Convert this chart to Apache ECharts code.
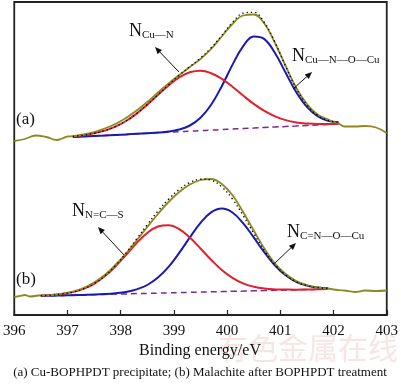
<!DOCTYPE html>
<html><head><meta charset="utf-8">
<script src="https://cdn.jsdelivr.net/npm/echarts@6/dist/echarts.min.js"></script>
<style>html,body{margin:0;padding:0;background:#fff}#c{width:401px;height:392px}</style>
</head><body><div id="c"></div>
<script>
// x-axis tick labels (binding energy, eV)
const tickLabels = [396, 397, 398, 399, 400, 401, 402, 403];

// ---- Panel (a): Cu-BOPHPDT precipitate ----
const fitEnergyA = [397.1,397.3,397.5,397.7,397.9,398.1,398.3,398.5,398.7,398.9,399.1,399.3,399.5,399.7,399.9,400.1,400.3,400.5,400.7,400.9,401.1,401.3,401.5,401.7,401.9,402.1];
const baselineA = [178.0,178.5,179.1,179.6,180.1,180.6,181.2,181.7,182.2,182.7,183.3,183.8,184.3,184.8,185.4,185.9,186.4,186.9,187.5,188.0,188.5,189.0,189.6,190.1,190.6,191.1];
const peakCuN_A = [178.6,179.8,181.7,184.4,188.4,194.0,201.4,210.3,220.0,229.5,237.6,242.7,244.2,241.8,236.2,228.3,219.5,211.1,204.1,198.7,194.9,192.6,191.5,191.0,191.0,191.3];
const peakCuNOCu_A = [178.0,178.5,179.1,179.6,180.1,180.6,181.2,181.8,182.4,183.4,185.5,189.5,197.2,210.2,228.8,250.1,268.7,278.5,275.9,262.0,242.2,222.8,208.1,198.8,194.2,192.4];
const envelopeA = [178.6,179.8,181.7,184.4,188.4,194.0,201.4,210.4,220.2,230.2,239.8,248.4,257.1,267.2,279.6,292.5,301.8,302.7,292.5,272.7,248.6,226.4,210.0,199.7,194.6,192.6];
const rawEnergyA = [396.0,396.2,396.4,396.6,396.8,396.9,397.0,397.1,397.3,397.5,397.7,397.9,398.1,398.3,398.5,398.7,398.9,399.1,399.3,399.5,399.7,399.9,400.1,400.3,400.5,400.7,400.9,401.1,401.3,401.5,401.7,401.9,402.0,402.1,402.2,402.4,402.6,402.8,403.0];
const rawA = [174,176,179.5,178,175,176.5,178.5,178.8,180.5,183,186.5,191,197,204.5,213,222.5,231.5,240,248,256,266,278.5,291,299.5,300.5,291.5,272,249,227,211,200.5,195.5,193,191.5,188.5,188.5,189,187.5,182];

// ---- Panel (b): Malachite after BOPHPDT treatment ----
const fitEnergyB = [396.5,396.7,396.9,397.1,397.3,397.5,397.7,397.9,398.1,398.3,398.5,398.7,398.9,399.1,399.3,399.5,399.7,399.9,400.1,400.3,400.5,400.7,400.9,401.1,401.3,401.5,401.7,401.9];
const baselineB = [19.1,19.3,19.6,19.8,20.1,20.3,20.6,20.9,21.1,21.4,21.6,21.9,22.1,22.4,22.6,22.9,23.2,23.4,23.7,23.9,24.2,24.4,24.7,25.0,25.2,25.5,25.7,26.0];
const peakNCS_B = [19.4,19.9,21.1,22.9,26.1,31.2,38.7,48.5,60.0,71.9,82.0,88.5,89.8,85.9,77.4,66.5,55.2,45.0,37.2,31.6,28.3,26.4,25.6,25.4,25.3,25.5,25.7,26.0];
const peakCNOCu_B = [19.1,19.3,19.6,19.8,20.1,20.4,20.9,21.7,23.0,25.6,30.0,37.4,48.1,62.1,77.6,92.2,102.7,106.4,102.5,91.9,77.6,62.6,49.5,39.7,33.1,29.4,27.4,26.7];
const envelopeB = [19.4,19.9,21.1,22.9,26.1,31.3,39.0,49.3,61.9,76.1,90.4,104.0,115.8,125.6,132.4,135.8,134.7,128.0,116.0,99.6,81.7,64.6,50.4,40.1,33.2,29.4,27.4,26.7];
const rawEnergyB = [396.0,396.1,396.2,396.3,396.45,396.7,396.9,397.1,397.3,397.5,397.7,397.9,398.1,398.3,398.5,398.7,398.9,399.1,399.3,399.5,399.7,399.9,400.1,400.3,400.5,400.7,400.9,401.1,401.3,401.5,401.7,401.9,402.0,402.2,402.4,402.6,402.8,403.0];
const rawB = [18,19,20,18.5,19.5,20,21.3,23.5,27,32.5,40,50,61.5,74.5,88,101,113,123,130.5,135,136,131,120,103,84.5,66.5,51.5,41,34,30,27.5,26.5,25.5,24.5,23,24.5,24,24.5];

const zip = (xs, ys) => xs.map((x, i) => [x, ys[i]]);
const OLIVE = '#8c8a20', RED = '#e0202c', BLUE = '#1a1ab0', PURPLE = '#7a2a8c';
const SERIF = '"Liberation Serif", "Times New Roman", serif';

function line(data, color, width, type, z) {
  return { type: 'line', data, symbol: 'none', smooth: 0.4, z: z || 2,
    lineStyle: { color, width, type: type || 'solid' }, silent: true, animation: false };
}

const series = [];
[[fitEnergyA, baselineA, peakCuN_A, peakCuNOCu_A, envelopeA, rawEnergyA, rawA],
 [fitEnergyB, baselineB, peakNCS_B, peakCNOCu_B, envelopeB, rawEnergyB, rawB]].forEach(p => {
  series.push(line(zip(p[0], p[1]), PURPLE, 1.5, [6, 4], 2));
  series.push(line(zip(p[0], p[3]), BLUE, 2, 'solid', 3));
  series.push(line(zip(p[0], p[2]), RED, 2, 'solid', 4));
  series.push(line(zip(p[5], p[6]), OLIVE, 1.8, 'solid', 5));
  series.push(line(zip(p[0], p[4]), '#000', 1.3, [1.3, 3], 6));
});

function arrow(x1, y1, x2, y2) {
  const a = Math.atan2(y2 - y1, x2 - x1), L = 7, W = 3;
  const bx = x2 - L * Math.cos(a), by = y2 - L * Math.sin(a);
  return [
    { type: 'line', shape: { x1, y1, x2: bx, y2: by }, style: { stroke: '#111', lineWidth: 1 }, z: 20 },
    { type: 'polygon', shape: { points: [[x2, y2], [bx + W * Math.sin(a), by - W * Math.cos(a)], [bx - W * Math.sin(a), by + W * Math.cos(a)]] }, style: { fill: '#111' }, z: 20 }
  ];
}
function txt(x, y, text, size, extra) {
  return Object.assign({ type: 'text', x, y, z: 20,
    style: { text, fontSize: size, fontFamily: SERIF, fill: '#111', textVerticalAlign: 'top' } }, extra || {});
}

const graphic = [
  txt(129, 22, 'N', 18), txt(142, 30, 'Cu—N', 11),
  txt(292, 47, 'N', 18), txt(305, 55, 'Cu—N—O—Cu', 11),
  txt(72, 202, 'N', 18), txt(85, 210, 'N=C—S', 11),
  txt(287, 223, 'N', 18), txt(300, 231, 'C=N—O—Cu', 11),
  txt(16, 111, '(a)', 17), txt(16, 271, '(b)', 17),
  { type: 'text', x: 200, y: 343, z: 20, style: { text: 'Binding energy/eV', fontSize: 16, fontFamily: SERIF, fill: '#111', textAlign: 'center', textVerticalAlign: 'top' } },
  { type: 'text', x: 308, y: 333, z: 1, style: { text: '有色金属在线', fontSize: 30, fontFamily: '"Noto Sans CJK SC", sans-serif', fill: 'rgba(225,160,160,0.28)', textAlign: 'center', textVerticalAlign: 'top' } },
  { type: 'text', x: 200, y: 366, z: 20, style: { text: '(a) Cu-BOPHPDT precipitate; (b) Malachite after BOPHPDT treatment', fontSize: 13, fontFamily: SERIF, fill: '#111', textAlign: 'center', textVerticalAlign: 'top' } },
  ...arrow(179, 72, 155, 47),
  ...arrow(293, 89, 312, 72),
  ...arrow(124, 255, 98, 227),
  ...arrow(275, 263, 296, 243)
];

const chart = echarts.init(document.getElementById('c'), null, { renderer: 'canvas' });
chart.setOption({
  animation: false,
  backgroundColor: '#fff',
  grid: { left: 11, right: 12, top: 2, bottom: 77, show: true, borderColor: '#222', borderWidth: 1.8, backgroundColor: 'transparent' },
  xAxis: {
    type: 'value', min: tickLabels[0], max: tickLabels[tickLabels.length - 1], interval: 1,
    axisLine: { show: true, lineStyle: { color: '#222', width: 1.8 } },
    axisTick: { show: true, inside: true, length: 5, lineStyle: { color: '#222', width: 1.2 } },
    axisLabel: { show: true, margin: 9, fontSize: 15, fontFamily: SERIF, color: '#111',
      formatter: v => String(v), showMinLabel: true, showMaxLabel: true },
    splitLine: { show: false }
  },
  yAxis: { type: 'value', min: 0, max: 313, show: false },
  series,
  graphic
});
</script>
</body></html>
